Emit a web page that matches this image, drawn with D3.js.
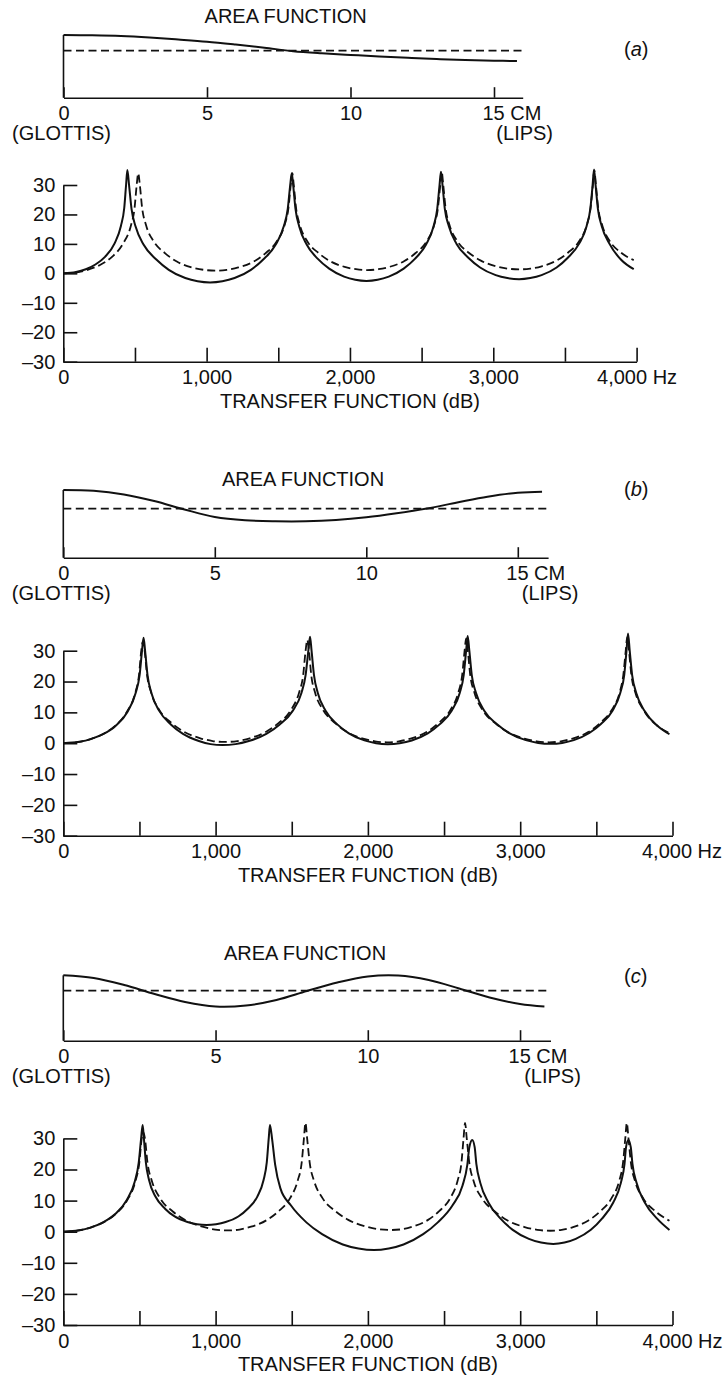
<!DOCTYPE html>
<html>
<head>
<meta charset="utf-8">
<script src="https://cdn.jsdelivr.net/npm/d3@7"></script>
<style>
  body { margin: 0; background: #fff; }
  svg text { font-family: "Liberation Sans", Arial, Helvetica, sans-serif; font-size: 20px; fill: #111; }
</style>
</head>
<body>
<svg id="chart" width="727" height="1379"></svg>
<script>
// ---- data ----
const areaCm = [0, 1, 2, 3, 4, 5, 6, 7, 8, 9, 10, 11, 12, 13, 14, 15, 15.8];
// relative cross-section area (uniform tube = 1)
const areaA = [1.334, 1.328, 1.313, 1.281, 1.238, 1.191, 1.13, 1.063, 0.99, 0.945, 0.91, 0.877, 0.848, 0.822, 0.8, 0.787, 0.781];
const areaB = [1.382, 1.365, 1.29, 1.157, 0.984, 0.831, 0.763, 0.743, 0.743, 0.769, 0.824, 0.906, 1.004, 1.127, 1.245, 1.327, 1.347];
const areaC = [1.308, 1.254, 1.114, 0.934, 0.774, 0.684, 0.704, 0.814, 0.994, 1.164, 1.284, 1.302, 1.214, 1.044, 0.864, 0.734, 0.684];
const uniformArea = [[0, 1], [16, 1]];

// transfer functions, [Hz, dB]
const tfA_solid = [[0,0],[89,0.44],[157,1.4],[224,3.0],[291,5.6],[358,10.2],[402,16.1],[425,22.1],[438,30],[447,35.1],
  [459,29.9],[476,21.9],[505,15.8],[562,9.6],[649,4.7],[736,1.2],[851,-1.6],[937,-2.7],[1024,-3.1],
  [1110,-2.7],[1195,-1.6],[1309,1.2],[1395,4.7],[1480,9.6],[1537,15.8],[1566,21.9],[1583,29.9],[1594,34],
  [1604,29.9],[1620,21.9],[1646,15.9],[1698,9.8],[1776,4.9],[1855,1.6],[1959,-1.1],[2037,-2.2],[2115,-2.6],
  [2193,-2.2],[2271,-1.1],[2375,1.6],[2453,4.9],[2531,9.8],[2583,15.9],[2609,21.9],[2625,29.9],[2635,34.5],
  [2646,29.9],[2662,21.9],[2690,16.0],[2744,10.0],[2826,5.3],[2908,2.0],[3017,-0.6],[3098,-1.6],[3180,-2.0],
  [3258,-1.6],[3337,-0.6],[3442,2.0],[3520,5.3],[3598,10.0],[3651,16.0],[3677,21.9],[3693,29.9],[3703,35.3],
  [3714,29.9],[3730,21.9],[3757,16.0],[3811,10.0],[3892,4.6],[3980,1.4]];
const tfA_dashed = [[0,0],[105,0.44],[183,1.4],[262,3.0],[340,5.6],[418,10.2],[471,16.1],[497,22.1],[512,30],[523,34],
  [534,30.0],[550,22.2],[577,16.4],[630,10.9],[711,6.8],[792,4.0],[899,2.0],[979,1.2],[1060,0.9],
  [1141,1.2],[1221,2.0],[1329,4.0],[1410,6.8],[1490,10.9],[1544,16.4],[1571,22.2],[1587,30.0],[1598,34],
  [1608,30.0],[1624,22.2],[1650,16.5],[1702,10.9],[1781,6.9],[1859,4.2],[1963,2.2],[2042,1.4],[2120,1.1],
  [2198,1.4],[2276,2.2],[2380,4.2],[2458,6.9],[2536,10.9],[2588,16.5],[2614,22.2],[2630,30.0],[2640,34.5],
  [2651,30.0],[2667,22.2],[2694,16.5],[2748,11.0],[2829,7.0],[2910,4.4],[3018,2.4],[3099,1.6],[3180,1.36],
  [3259,1.6],[3338,2.4],[3443,4.4],[3521,7.0],[3600,11.0],[3653,16.5],[3679,22.2],[3695,30.0],[3705,35],
  [3716,30.0],[3732,22.2],[3759,16.5],[3812,11.0],[3892,7.0],[3980,4.5]];

const tfB_solid = [[0,0],[105,0.44],[185,1.4],[264,3.0],[343,5.6],[422,10.2],[474,16.1],[501,22.1],[517,30],[527,34.2],
  [537,30.0],[553,22.1],[579,16.2],[631,10.4],[708,6.0],[786,3.0],[890,0.7],[967,-0.3],[1045,-0.6],
  [1131,-0.3],[1218,0.7],[1333,3.0],[1419,6.0],[1505,10.4],[1563,16.2],[1591,22.1],[1609,30.0],[1620,34.5],
  [1630,30.0],[1646,22.1],[1671,16.3],[1722,10.5],[1799,6.1],[1875,3.2],[1977,0.9],[2054,0.0],[2130,-0.3],
  [2209,0.0],[2288,0.9],[2393,3.2],[2471,6.1],[2550,10.5],[2603,16.3],[2629,22.1],[2645,30.0],[2655,34.8],
  [2666,30.0],[2682,22.1],[2710,16.3],[2764,10.5],[2846,6.2],[2928,3.3],[3037,1.0],[3118,0.1],[3200,-0.2],
  [3276,0.1],[3352,1.0],[3454,3.3],[3530,6.2],[3606,10.5],[3657,16.3],[3683,22.1],[3698,30.0],[3708,35.6],
  [3719,30.0],[3735,22.1],[3762,16.3],[3816,10.5],[3897,5.8],[3980,2.9]];
const tfB_dashed = [[0,0],[105,0.44],[183,1.4],[262,3.0],[340,5.6],[418,10.2],[471,16.1],[497,22.1],[512,30],[523,33],
  [534,30.0],[550,22.1],[577,16.4],[631,10.7],[712,6.5],[793,3.7],[900,1.6],[981,0.7],[1062,0.4],
  [1143,0.7],[1224,1.6],[1332,3.7],[1413,6.5],[1494,10.7],[1548,16.4],[1575,22.1],[1591,30.0],[1602,33.5],
  [1613,30.0],[1628,22.1],[1654,16.3],[1707,10.7],[1785,6.5],[1864,3.6],[1968,1.5],[2047,0.6],[2125,0.3],
  [2203,0.6],[2281,1.5],[2385,3.6],[2463,6.5],[2541,10.7],[2593,16.3],[2619,22.1],[2635,30.0],[2645,34],
  [2656,30.0],[2672,22.1],[2700,16.3],[2754,10.7],[2836,6.5],[2918,3.6],[3027,1.5],[3108,0.6],[3190,0.3],
  [3267,0.6],[3344,1.5],[3447,3.6],[3524,6.5],[3600,10.7],[3652,16.3],[3677,22.1],[3693,30.0],[3703,34.5],
  [3714,30.0],[3730,22.1],[3757,16.3],[3811,10.7],[3892,6.0],[3980,3.3]];

const tfC_solid = [[0,0],[104,0.44],[182,1.4],[261,3.0],[339,5.6],[417,10.2],[469,16.1],[495,22.1],[511,30],[521,34.3],
  [529,30.1],[542,22.3],[563,16.6],[605,11.3],[668,7.4],[731,4.9],[815,3.1],[878,2.4],[941,2.15],
  [1003,2.4],[1066,3.1],[1149,4.9],[1211,7.4],[1274,11.3],[1315,16.6],[1336,22.3],[1349,30.1],[1357,34.3],
  [1371,29.8],[1391,21.6],[1425,14.0],[1494,8.5],[1596,3.0],[1699,-0.8],[1835,-4.1],[1938,-5.4],[2040,-5.9],
  [2137,-5.4],[2234,-4.1],[2363,-0.8],[2459,3.0],[2556,8.5],[2621,14.8],[2653,21.6],[2666,27.1],[2685,29.5],
  [2701,27.2],[2712,21.8],[2738,15.7],[2791,9.4],[2871,4.2],[2951,0.6],[3057,-2.3],[3137,-3.5],[3217,-3.95],
  [3291,-3.5],[3365,-2.3],[3464,0.6],[3537,4.2],[3611,9.4],[3661,15.7],[3685,21.8],[3695,27.2],[3710,29.5],
  [3726,27.2],[3737,21.8],[3764,15.7],[3818,9.4],[3899,4.2],[3980,0.55]];
const tfC_dashed = [[0,0],[105,0.44],[184,1.4],[263,3.0],[341,5.6],[420,10.2],[473,16.1],[499,22.1],[515,30],[525,32],
  [536,30.0],[553,22.1],[581,16.4],[636,10.7],[719,6.5],[803,3.7],[914,1.6],[997,0.7],[1080,0.4],
  [1157,0.7],[1233,1.6],[1335,3.7],[1412,6.5],[1488,10.7],[1539,16.4],[1565,22.1],[1580,30.0],[1590,35],
  [1601,30.0],[1618,22.1],[1646,16.4],[1702,10.8],[1787,6.6],[1871,3.8],[1983,1.7],[2068,0.8],[2152,0.55],
  [2225,0.8],[2298,1.7],[2395,3.8],[2468,6.6],[2541,10.8],[2589,16.4],[2614,22.1],[2628,30.0],[2638,35],
  [2649,30.0],[2666,22.1],[2694,16.3],[2750,10.7],[2833,6.5],[2917,3.6],[3029,1.5],[3112,0.6],[3196,0.3],
  [3272,0.6],[3347,1.5],[3448,3.6],[3524,6.5],[3599,10.7],[3650,16.3],[3675,22.1],[3690,30.0],[3700,35],
  [3711,30.0],[3727,22.1],[3754,16.3],[3808,10.7],[3889,6.5],[3980,3.5]];

const areaTicks = [0, 5, 10, 15];
const hzTicks = [0, 500, 1000, 1500, 2000, 2500, 3000, 3500, 4000];
const dbTicks = [-30, -20, -10, 0, 10, 20, 30];
const panelLetters = ["a", "b", "c"];

const panels = [
  { area: areaA, solid: tfA_solid, dashed: tfA_dashed,
    ax: [63.5, 522.7], base: 97.7, unitY: 50.7, titleX: 285.7, titleY: 22.6, letterY: 56.3,
    tx: [63.3, 636.6], ty: [361.7, 185], hzDx: 0 },
  { area: areaB, solid: tfB_solid, dashed: tfB_dashed,
    ax: [63.3, 548.1], base: 557.7, unitY: 508.7, titleX: 303, titleY: 486, letterY: 496.3,
    tx: [63.3, 672.5], ty: [835.7, 650.7], hzDx: 9 },
  { area: areaC, solid: tfC_solid, dashed: tfC_dashed,
    ax: [63.3, 550.5], base: 1040.7, unitY: 990.7, titleX: 305, titleY: 960, letterY: 983,
    tx: [63.3, 672.5], ty: [1325, 1138.4], hzDx: 9.5 }
];

const svg = d3.select("#chart");
const ink = "#111";

panels.forEach((p, i) => {
  const g = svg.append("g");

  // area function
  const x = d3.scaleLinear().domain([0, 16]).range(p.ax);
  const y = d3.scaleLinear().domain([0, 1]).range([p.base, p.unitY]);

  g.append("text")
    .attr("x", p.titleX).attr("y", p.titleY)
    .attr("text-anchor", "middle")
    .text("AREA FUNCTION");

  const letter = g.append("text").attr("x", 624).attr("y", p.letterY);
  letter.append("tspan").text("(");
  letter.append("tspan").attr("font-style", "italic").text(panelLetters[i]);
  letter.append("tspan").text(")");

  const areaAxis = g.append("g")
    .attr("transform", `translate(0,${p.base})`)
    .call(d3.axisBottom(x)
      .tickValues(areaTicks)
      .tickSizeInner(-10.5)
      .tickSizeOuter(0)
      .tickPadding(8.3)
      .tickFormat(d => d === 15 ? "15 CM" : d));
  areaAxis.selectAll("path, line").attr("stroke", ink).attr("stroke-width", 1.6);
  areaAxis.selectAll("text").filter(d => d === 15)
    .attr("text-anchor", "start").attr("x", -12);

  g.append("line")
    .attr("x1", x(0)).attr("x2", x(0))
    .attr("y1", y(0)).attr("y2", y(p.area[0]))
    .attr("stroke", ink).attr("stroke-width", 1.6);

  g.append("text")
    .attr("x", x(0) - 2).attr("y", p.base + 42.5)
    .attr("text-anchor", "middle").text("(GLOTTIS)");
  g.append("text")
    .attr("x", x(16) + 2).attr("y", p.base + 42.5)
    .attr("text-anchor", "middle").text("(LIPS)");

  const areaLine = d3.line()
    .x(d => x(d[0]))
    .y(d => y(d[1]))
    .curve(d3.curveCatmullRom);

  g.append("path")
    .attr("d", areaLine(uniformArea))
    .attr("fill", "none").attr("stroke", ink)
    .attr("stroke-width", 1.8).attr("stroke-dasharray", "8,4.5");

  g.append("path")
    .attr("d", areaLine(d3.zip(areaCm, p.area)))
    .attr("fill", "none").attr("stroke", ink).attr("stroke-width", 2);

  // transfer function
  const fx = d3.scaleLinear().domain([0, 4000]).range(p.tx);
  const fy = d3.scaleLinear().domain([-30, 30]).range(p.ty);

  const yAxis = g.append("g")
    .attr("transform", `translate(${p.tx[0]},0)`)
    .call(d3.axisLeft(fy)
      .tickValues(dbTicks)
      .tickSizeInner(-14)
      .tickSizeOuter(0)
      .tickPadding(8)
      .tickFormat(d => d < 0 ? "\u2013" + Math.abs(d) : d));
  yAxis.selectAll("path, line").attr("stroke", ink).attr("stroke-width", 1.6);

  const xAxis = g.append("g")
    .attr("transform", `translate(0,${p.ty[0]})`)
    .call(d3.axisBottom(fx)
      .tickValues(hzTicks)
      .tickSizeInner(-14)
      .tickSizeOuter(0)
      .tickPadding(8.5)
      .tickFormat(d => d % 1000 ? "" : d === 4000 ? "4,000 Hz" : d3.format(",")(d)));
  xAxis.selectAll("path, line").attr("stroke", ink).attr("stroke-width", 1.6);
  xAxis.selectAll("text").filter(d => d === 4000).attr("dx", p.hzDx);

  g.append("text")
    .attr("x", (p.tx[0] + p.tx[1]) / 2).attr("y", p.ty[0] + 46.3)
    .attr("text-anchor", "middle")
    .text("TRANSFER FUNCTION (dB)");

  const tfLine = d3.line()
    .x(d => fx(d[0]))
    .y(d => fy(d[1]))
    .curve(d3.curveMonotoneX);

  g.append("path")
    .attr("d", tfLine(p.dashed))
    .attr("fill", "none").attr("stroke", ink)
    .attr("stroke-width", 1.8).attr("stroke-dasharray", "8,4");

  g.append("path")
    .attr("d", tfLine(p.solid))
    .attr("fill", "none").attr("stroke", ink).attr("stroke-width", 2);
});
</script>
</body>
</html>
